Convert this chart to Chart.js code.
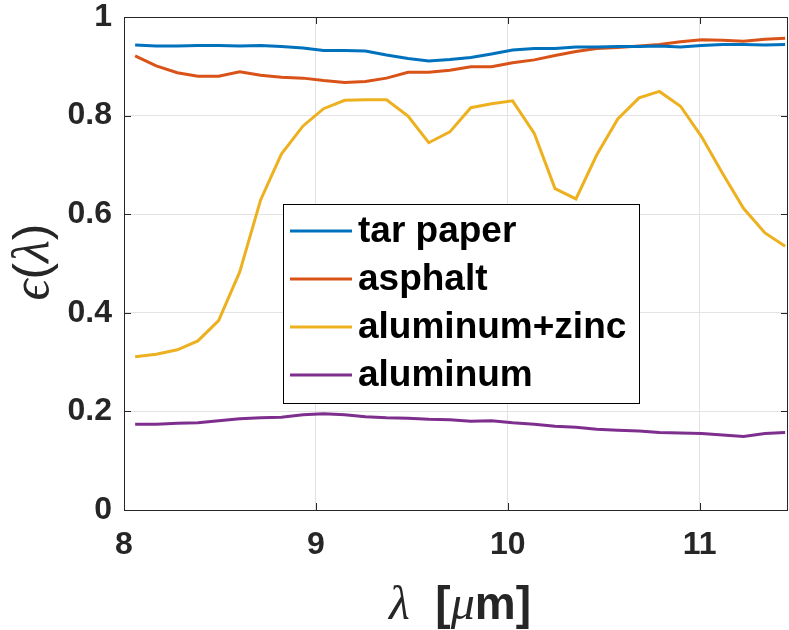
<!DOCTYPE html>
<html>
<head>
<meta charset="utf-8">
<script src="https://cdn.jsdelivr.net/npm/chart.js@4.4.1/dist/chart.umd.min.js"></script>
<style>
  body { margin: 0; background: #fff; }
  #wrap { width: 789px; height: 630px; }
</style>
</head>
<body>
<div id="wrap"><canvas id="chart" width="789" height="630"></canvas></div>
<script>
// wavelength in micrometres
const wavelength = [8.058, 8.168, 8.278, 8.385, 8.493, 8.603, 8.712, 8.82, 8.933, 9.04,
    9.15, 9.258, 9.368, 9.48, 9.588, 9.698, 9.807, 9.915, 10.025, 10.138,
    10.246, 10.355, 10.463, 10.573, 10.684, 10.79, 10.9, 11.01, 11.12, 11.228,
    11.34, 11.445];

const tarPaper = [0.943, 0.941, 0.941, 0.942, 0.942, 0.941, 0.942, 0.940, 0.937, 0.932,
    0.932, 0.931, 0.923, 0.916, 0.911, 0.914, 0.918, 0.925, 0.933, 0.936,
    0.936, 0.939, 0.939, 0.940, 0.940, 0.941, 0.939, 0.942, 0.944, 0.944,
    0.943, 0.944];

const asphalt = [0.921, 0.901, 0.887, 0.880, 0.880, 0.889, 0.882, 0.878, 0.876, 0.871,
    0.867, 0.869, 0.876, 0.888, 0.888, 0.892, 0.899, 0.899, 0.907, 0.913,
    0.922, 0.930, 0.936, 0.938, 0.941, 0.944, 0.950, 0.954, 0.953, 0.951,
    0.955, 0.957];

const aluminumZinc = [0.311, 0.316, 0.325, 0.343, 0.384, 0.483, 0.629, 0.722, 0.779, 0.814,
    0.831, 0.832, 0.832, 0.799, 0.745, 0.767, 0.816, 0.824, 0.830, 0.764,
    0.652, 0.631, 0.720, 0.793, 0.836, 0.849, 0.819, 0.757, 0.682, 0.612,
    0.562, 0.535];

const aluminum = [0.174, 0.174, 0.176, 0.177, 0.181, 0.185, 0.187, 0.188, 0.193, 0.195,
    0.193, 0.189, 0.187, 0.186, 0.184, 0.183, 0.180, 0.181, 0.177, 0.174,
    0.170, 0.168, 0.164, 0.162, 0.160, 0.157, 0.156, 0.155, 0.152, 0.149,
    0.155, 0.157];

const seriesLabels = ['tar paper', 'asphalt', 'aluminum+zinc', 'aluminum'];
const seriesColors = ['#0072BD', '#D95319', '#EDB120', '#7E2F8E'];
const yTicks = [0, 0.2, 0.4, 0.6, 0.8, 1];
const xTicks = [8, 9, 10, 11];

const axisColor = '#262626';
const tickFont = { family: '"Liberation Sans", Arial, sans-serif', size: 32, weight: 'bold' };

function toPoints(values) {
    return values.map((v, i) => ({ x: wavelength[i], y: v }));
}

// draws a string made of runs with different fonts, centred on x
function drawRuns(ctx, runs, x, y) {
    let total = 0;
    runs.forEach(r => { ctx.font = r.font; total += ctx.measureText(r.text).width; });
    let cx = x - total / 2;
    runs.forEach(r => {
        ctx.font = r.font;
        ctx.fillText(r.text, cx, y);
        cx += ctx.measureText(r.text).width;
    });
}

const matlabStyle = {
    id: 'matlabStyle',
    afterDraw(chart) {
        const ctx = chart.ctx;
        const area = chart.chartArea;
        const xs = chart.scales.x;
        const ys = chart.scales.y;
        ctx.save();

        // box and inward ticks
        ctx.strokeStyle = axisColor;
        ctx.lineWidth = 1;
        ctx.strokeRect(area.left + 0.5, area.top + 0.5, area.right - area.left - 1, area.bottom - area.top);
        ctx.beginPath();
        xTicks.forEach(t => {
            const px = Math.round(xs.getPixelForValue(t)) + 0.5;
            ctx.moveTo(px, area.bottom); ctx.lineTo(px, area.bottom - 7);
            ctx.moveTo(px, area.top); ctx.lineTo(px, area.top + 7);
        });
        yTicks.forEach(t => {
            const py = Math.round(ys.getPixelForValue(t)) + 0.5;
            ctx.moveTo(area.left, py); ctx.lineTo(area.left + 7, py);
            ctx.moveTo(area.right, py); ctx.lineTo(area.right - 7, py);
        });
        ctx.stroke();

        // legend
        const lx = 283, ly = 204, lw = 356, lh = 199;
        ctx.fillStyle = '#fff';
        ctx.fillRect(lx, ly, lw, lh);
        ctx.strokeStyle = '#000';
        ctx.strokeRect(lx + 0.5, ly + 0.5, lw, lh);
        chart.data.datasets.forEach((ds, i) => {
            const rowY = ly + 27 + i * 48;
            ctx.strokeStyle = ds.borderColor;
            ctx.lineWidth = 3;
            ctx.beginPath();
            ctx.moveTo(lx + 7, rowY); ctx.lineTo(lx + 69, rowY);
            ctx.stroke();
            ctx.fillStyle = '#000';
            ctx.font = 'bold 37px "Liberation Sans", Arial, sans-serif';
            ctx.textBaseline = 'middle';
            ctx.textAlign = 'left';
            ctx.fillText(ds.label, lx + 75, rowY + 1);
        });

        // axis titles
        ctx.fillStyle = axisColor;
        ctx.textBaseline = 'alphabetic';
        ctx.textAlign = 'left';
        const ital = 'italic 48px "Liberation Serif", "DejaVu Serif", serif';
        const bold = 'bold 46px "Liberation Sans", Arial, sans-serif';
        drawRuns(ctx, [
            { text: 'λ', font: ital },
            { text: '  [', font: bold },
            { text: 'μ', font: ital },
            { text: 'm]', font: bold }
        ], 460, 619);

        const ital2 = 'italic 52px "Liberation Serif", "DejaVu Serif", serif';
        const plain2 = '50px "Liberation Sans", Arial, sans-serif';
        ctx.translate(48, 262);
        ctx.rotate(-Math.PI / 2);
        drawRuns(ctx, [
            { text: 'ϵ', font: ital2 },
            { text: '(', font: plain2 },
            { text: 'λ', font: ital2 },
            { text: ')', font: plain2 }
        ], 0, 0);
        ctx.restore();
    }
};

const datasets = [tarPaper, asphalt, aluminumZinc, aluminum].map((values, i) => ({
    label: seriesLabels[i],
    data: toPoints(values),
    borderColor: seriesColors[i],
    backgroundColor: seriesColors[i],
    borderWidth: 3,
    pointRadius: 0,
    tension: 0,
    fill: false
}));

new Chart(document.getElementById('chart'), {
    type: 'line',
    data: { datasets },
    options: {
        responsive: false,
        animation: false,
        layout: { padding: { top: 17, right: 1, left: 0, bottom: 0 } },
        plugins: { legend: { display: false }, tooltip: { enabled: false } },
        scales: {
            x: {
                type: 'linear',
                min: 8,
                max: 11.46,
                afterFit(scale) {
                    scale.height = 120;
                    scale.paddingLeft = 0;
                    scale.paddingRight = 0;
                },
                afterBuildTicks(scale) { scale.ticks = xTicks.map(v => ({ value: v })); },
                ticks: { color: axisColor, font: tickFont, padding: 16, maxRotation: 0 },
                grid: { color: '#e3e3e3', drawTicks: false },
                border: { display: false }
            },
            y: {
                min: 0,
                max: 1,
                afterFit(scale) {
                    scale.width = 124;
                    scale.paddingTop = 0;
                    scale.paddingBottom = 0;
                },
                afterBuildTicks(scale) { scale.ticks = yTicks.map(v => ({ value: v })); },
                ticks: {
                    color: axisColor,
                    font: tickFont,
                    padding: 12,
                    callback: v => String(+v.toFixed(1))
                },
                grid: { color: '#e3e3e3', drawTicks: false },
                border: { display: false }
            }
        }
    },
    plugins: [matlabStyle]
});
</script>
</body>
</html>
